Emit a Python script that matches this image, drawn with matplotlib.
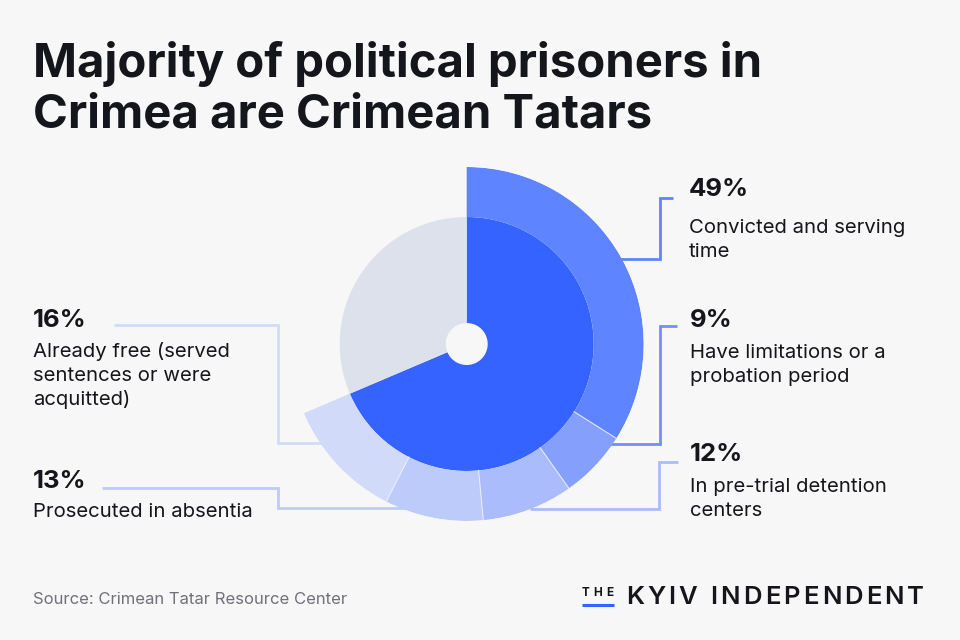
import numpy as np
import matplotlib
matplotlib.use("Agg")
import matplotlib.pyplot as plt

# ---- data ----
tatar_share = 68.6          # % of political prisoners who are Crimean Tatars (inner pie)
other_share = 100 - tatar_share
categories = [["Convicted and serving", "time"],
              ["Have limitations or a", "probation period"],
              ["In pre-trial detention", "centers"],
              ["Prosecuted in absentia"],
              ["Already free (served", "sentences or were", "acquitted)"]]
values = [49, 9, 12, 13, 16]
pct_labels = ["49%", "9%", "12%", "13%", "16%"]

title_lines = ["Majority of political prisoners in", "Crimea are Crimean Tatars"]
source = "Source: Crimean Tatar Resource Center"

# ---- style ----
BG = "#F7F7F7"
BLUE = "#3563FF"
GREY = "#DDE1EC"
seg_colors = ["#5F84FF", "#84A0FC", "#AABCFB", "#BCCBFA", "#D1DAF8"]
line_colors = ["#5F84FF", "#6F8FFF", "#AABCFB", "#BCCBFA", "#D1DAF8"]
TXT = "#15151C"
FONT = "Inter"

W, H = 960, 640
fig = plt.figure(figsize=(W / 100, H / 100), dpi=100, facecolor=BG)
renderer = fig.canvas.get_renderer()

# overlay axes in pixel coords for annotations
ov = fig.add_axes([0, 0, 1, 1], zorder=0)
ov.set_xlim(0, W)
ov.set_ylim(H, 0)
ov.axis("off")

# polar axes
cx, cy, R_out = 466.7, 344.0, 177.0
R_hole, R_in = 21.0, 127.0
ax = fig.add_axes([(cx - R_out) / W, (H - cy - R_out) / H, 2 * R_out / W, 2 * R_out / H],
                  projection="polar", zorder=2)
ax.set_theta_zero_location("N")
ax.set_theta_direction(-1)
ax.set_ylim(0, R_out)
ax.axis("off")
ax.patch.set_alpha(0)

tat_ang = 2 * np.pi * tatar_share / 100
oth_ang = 2 * np.pi * other_share / 100
ax.bar(0, R_in - R_hole, width=tat_ang, bottom=R_hole, align="edge", color=BLUE, linewidth=0)
ax.bar(tat_ang, R_in - R_hole, width=oth_ang, bottom=R_hole, align="edge", color=GREY, linewidth=0)

vals = np.array(values, dtype=float)
widths = vals / vals.sum() * tat_ang
starts = np.concatenate([[0], np.cumsum(widths)[:-1]])
ax.bar(starts, R_out - R_in, width=widths, bottom=R_in, align="edge",
       color=seg_colors, linewidth=0)
for a in starts[1:]:
    ax.plot([a, a], [R_in, R_out], color="#F0F3FF", lw=0.8, alpha=0.8)

# ---- connectors (pixel coords) ----
conn = [
    [(600, 259), (660, 259), (660, 198), (673, 198)],
    [(595, 444), (660, 444), (660, 326), (677, 326)],
    [(530, 509), (659, 509), (659, 462), (678, 462)],
    [(420, 508), (278, 508), (278, 488), (102, 488)],
    [(330, 443), (278, 443), (278, 325), (114, 325)],
]
for pts, c in zip(conn, line_colors):
    xs, ys = zip(*pts)
    ov.plot(xs, ys, color=c, lw=2, solid_joinstyle="miter", solid_capstyle="butt")

# ---- labels ----
lab_pos = [(689, 196, 233), (690, 327, 358), (690, 461, 492), (33, 488, 517), (33, 327, 357)]
for (x, yp, yl), p, lab in zip(lab_pos, pct_labels, categories):
    ov.text(x, yp, p, fontsize=18.5, fontweight="bold", family=FONT, color=TXT,
            va="baseline", ha="left")
    for i, line in enumerate(lab):
        ov.text(x, yl + 24 * i, line, fontsize=14.6, family=FONT, color=TXT,
                va="baseline", ha="left")

# title
for i, line in enumerate(title_lines):
    ov.text(33, 77 + 51 * i, line, fontsize=34, fontweight="bold", family=FONT, color=TXT,
            va="baseline", ha="left")

# source
ov.text(33, 603.5, source, fontsize=12, family=FONT, color="#707078", va="baseline", ha="left")


def tracked(x0, x1, y, s, **kw):
    """Draw string s from x0 spread to end at x1 (letter tracking)."""
    tmp = ov.text(0, y, "n n", **kw)
    tmp2 = ov.text(0, y, "nn", **kw)
    space_w = tmp.get_window_extent(renderer).width - tmp2.get_window_extent(renderer).width
    tmp.remove(); tmp2.remove()
    arts, ws = [], []
    for ch in s:
        t = ov.text(0, y, ch, va="baseline", ha="left", **kw)
        arts.append(t)
        ws.append(t.get_window_extent(renderer).width if ch != " " else space_w)
    gap = (x1 - x0 - sum(ws)) / (len(s) - 1)
    x = x0
    for t, w in zip(arts, ws):
        t.set_x(x)
        x += w + gap


# logo
tracked(582, 613, 596.5, "THE", fontsize=8.5, fontweight="bold", family=FONT, color=TXT)
ov.plot([582, 614], [605, 605], color=BLUE, lw=2.2, solid_capstyle="butt")
tracked(626, 924, 604.5, "KYIV INDEPENDENT", fontsize=18.5, fontweight="semibold",
        family=FONT, color=TXT)

fig.savefig("out.png", dpi=100, facecolor=BG)
